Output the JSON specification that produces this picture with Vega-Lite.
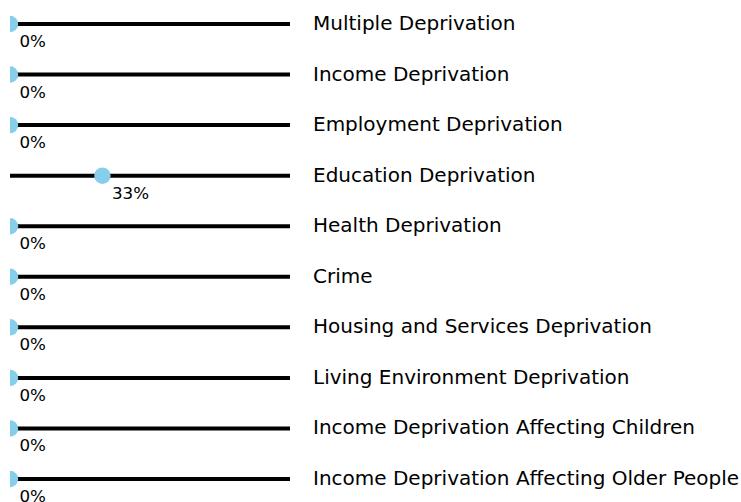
{
  "$schema": "https://vega.github.io/schema/vega-lite/v6.json",
  "autosize": {"type": "none"},
  "padding": {"left": 10, "top": 0, "right": 451, "bottom": 0},
  "width": 280,
  "height": 502,
  "background": "white",
  "config": {"view": {"stroke": null}, "font": "DejaVu Sans"},
  "data": {"values": [
    {"indicator": "Multiple Deprivation", "value": 0},
    {"indicator": "Income Deprivation", "value": 0},
    {"indicator": "Employment Deprivation", "value": 0},
    {"indicator": "Education Deprivation", "value": 0.33},
    {"indicator": "Health Deprivation", "value": 0},
    {"indicator": "Crime", "value": 0},
    {"indicator": "Housing and Services Deprivation", "value": 0},
    {"indicator": "Living Environment Deprivation", "value": 0},
    {"indicator": "Income Deprivation Affecting Children", "value": 0},
    {"indicator": "Income Deprivation Affecting Older People", "value": 0}
  ]},
  "encoding": {
    "y": {"field": "indicator", "type": "nominal", "sort": null, "axis": null,
          "scale": {"type": "point", "padding": 0, "range": [24, 479]}}
  },
  "layer": [
    {
      "mark": {"type": "rule", "color": "black", "strokeWidth": 4},
      "encoding": {
        "x": {"datum": 0, "type": "quantitative", "scale": {"domain": [0, 1], "nice": false, "zero": false}, "axis": null},
        "x2": {"datum": 1}
      }
    },
    {
      "mark": {"type": "point", "filled": true, "color": "#87CEEB", "opacity": 1, "size": 270, "clip": true},
      "encoding": {
        "x": {"field": "value", "type": "quantitative"}
      }
    },
    {
      "mark": {"type": "text", "align": "left", "baseline": "alphabetic", "dx": 9.5, "dy": 23, "fontSize": 16.7, "color": "black"},
      "encoding": {
        "x": {"field": "value", "type": "quantitative"},
        "text": {"field": "value", "type": "quantitative", "format": ".0%"}
      }
    },
    {
      "mark": {"type": "text", "align": "left", "baseline": "alphabetic", "dx": 23, "dy": 6, "fontSize": 20, "color": "black"},
      "encoding": {
        "x": {"datum": 1, "type": "quantitative"},
        "text": {"field": "indicator", "type": "nominal"}
      }
    }
  ]
}
